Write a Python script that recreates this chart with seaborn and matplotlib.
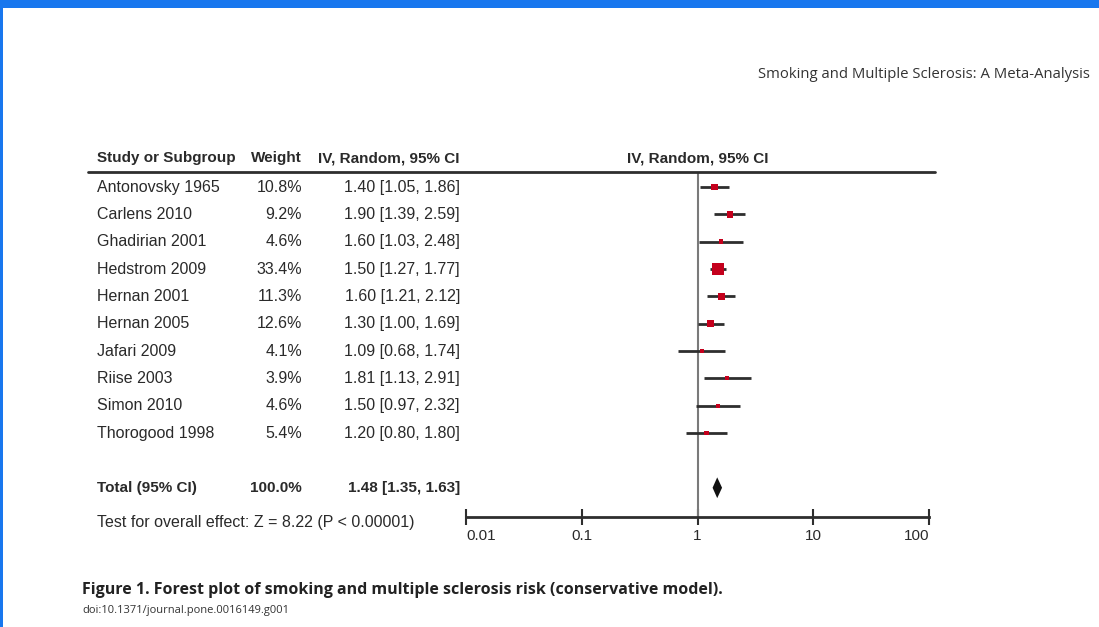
import numpy as np
import pandas as pd
import matplotlib
matplotlib.use("Agg")
import matplotlib.pyplot as plt
import seaborn as sns
from matplotlib.transforms import blended_transform_factory
from matplotlib.patches import Polygon, Rectangle
from matplotlib.lines import Line2D
from matplotlib.ticker import NullLocator

# ---------------- data ----------------
studies = ["Antonovsky 1965", "Carlens 2010", "Ghadirian 2001", "Hedstrom 2009",
           "Hernan 2001", "Hernan 2005", "Jafari 2009", "Riise 2003",
           "Simon 2010", "Thorogood 1998"]
weights = [10.8, 9.2, 4.6, 33.4, 11.3, 12.6, 4.1, 3.9, 4.6, 5.4]
rr = [1.40, 1.90, 1.60, 1.50, 1.60, 1.30, 1.09, 1.81, 1.50, 1.20]
ci_low = [1.05, 1.39, 1.03, 1.27, 1.21, 1.00, 0.68, 1.13, 0.97, 0.80]
ci_high = [1.86, 2.59, 2.48, 1.77, 2.12, 1.69, 1.74, 2.91, 2.32, 1.80]
total_rr, total_low, total_high = 1.48, 1.35, 1.63
total_weight = 100.0
x_ticks = [0.01, 0.1, 1, 10, 100]
x_tick_labels = ["0.01", "0.1", "1", "10", "100"]

df = pd.DataFrame({"study": studies, "weight": weights, "rr": rr,
                   "low": ci_low, "high": ci_high})
df["row"] = np.arange(len(df))
total_row = len(df) + 1

# ---------------- style ----------------
sns.set_style("white")
plt.rcParams["font.family"] = ["Liberation Sans", "DejaVu Sans"]

W, H = 1099, 627
fig = plt.figure(figsize=(W / 100, H / 100), dpi=100)
fig.patch.set_facecolor("white")

# blue frame (top band and thin left edge)
fig.add_artist(Rectangle((0, 1 - 8 / H), 1, 8 / H, transform=fig.transFigure,
                         color="#1877ee", lw=0))
fig.add_artist(Rectangle((0, 0), 2.5 / W, 1, transform=fig.transFigure,
                         color="#1877ee", lw=0))

def fx(px):
    return px / W

def fy(py):
    return 1 - py / H

ax = fig.add_axes([fx(466), fy(517), (929 - 466) / W, (517 - 172) / H])
ax.set_facecolor("none")

txt = "#2a2a2a"

# confidence intervals
ax.hlines(df["row"], df["low"], df["high"], color="#2e2e2e", lw=2, zorder=2)
# point estimates, square area proportional to weight
sns.scatterplot(data=df, x="rr", y="row", size="weight",
                sizes=(min(weights) * 2.25, max(weights) * 2.25),
                marker="s", color="#c4001c", edgecolor="none",
                legend=False, ax=ax, zorder=3)
# pooled diamond
ax.add_patch(Polygon([(total_low, total_row), (total_rr, total_row - 0.38),
                      (total_high, total_row), (total_rr, total_row + 0.38)],
                     closed=True, color="#111111", lw=0, zorder=3))
# line of no effect
ax.axvline(1, color="#7a7a7a", lw=1.5, zorder=1)

ax.set_xscale("log")
ax.set_xlim(0.01, 100)
ax.set_ylim(12.07, -0.55)
ax.set_xlabel("")
ax.set_ylabel("")
ax.set_yticks([])
ax.xaxis.set_minor_locator(NullLocator())
ax.set_xticks(x_ticks)
ax.set_xticklabels(x_tick_labels)
for sp in ["top", "left", "right"]:
    ax.spines[sp].set_visible(False)
ax.spines["bottom"].set_color("#2e2e2e")
ax.spines["bottom"].set_linewidth(2)
ax.tick_params(axis="x", which="major", bottom=True, direction="inout",
               length=12, width=1.5, colors="#2e2e2e", labelsize=11, pad=3,
               labelcolor=txt)
labels = ax.get_xticklabels()
labels[0].set_horizontalalignment("left")
labels[-1].set_horizontalalignment("right")

# ---------------- table text ----------------
tr = blended_transform_factory(fig.transFigure, ax.transData)
fs = 11.5
head_y = -1.06
ax.text(fx(97), head_y, "Study or Subgroup", transform=tr, ha="left", va="center",
        fontsize=11, fontweight="bold", color=txt, clip_on=False)
ax.text(fx(302), head_y, "Weight", transform=tr, ha="right", va="center",
        fontsize=11, fontweight="bold", color=txt, clip_on=False)
ax.text(fx(460), head_y, "IV, Random, 95% CI", transform=tr, ha="right", va="center",
        fontsize=11, fontweight="bold", color=txt, clip_on=False)
ax.text(1, head_y, "IV, Random, 95% CI", ha="center", va="center",
        fontsize=11, fontweight="bold", color=txt, clip_on=False)

fig.add_artist(Line2D([fx(88), fx(935)], [fy(172), fy(172)], color="#2e2e2e",
                      lw=2, transform=fig.transFigure))

for _, r in df.iterrows():
    ax.text(fx(97), r["row"], r["study"], transform=tr, ha="left", va="center",
            fontsize=fs, color=txt, clip_on=False)
    ax.text(fx(302), r["row"], f"{r['weight']:.1f}%", transform=tr, ha="right",
            va="center", fontsize=fs, color=txt, clip_on=False)
    ax.text(fx(460), r["row"], f"{r['rr']:.2f} [{r['low']:.2f}, {r['high']:.2f}]",
            transform=tr, ha="right", va="center", fontsize=fs, color=txt,
            clip_on=False)

ax.text(fx(97), total_row, "Total (95% CI)", transform=tr, ha="left", va="center",
        fontsize=11, fontweight="bold", color=txt, clip_on=False)
ax.text(fx(302), total_row, f"{total_weight:.1f}%", transform=tr, ha="right",
        va="center", fontsize=11, fontweight="bold", color=txt, clip_on=False)
ax.text(fx(460), total_row, f"{total_rr:.2f} [{total_low:.2f}, {total_high:.2f}]",
        transform=tr, ha="right", va="center", fontsize=11, fontweight="bold",
        color=txt, clip_on=False)
ax.text(fx(97), 12.26, "Test for overall effect: Z = 8.22 (P < 0.00001)",
        transform=tr, ha="left", va="center", fontsize=fs, color=txt, clip_on=False)

# ---------------- page texts ----------------
fig.text(fx(1090), fy(75), "Smoking and Multiple Sclerosis: A Meta-Analysis",
         ha="right", va="center", fontsize=10.7, color="#333333",
         family=["Open Sans", "DejaVu Sans"])
fig.text(fx(82), fy(590),
         "Figure 1. Forest plot of smoking and multiple sclerosis risk (conservative model).",
         ha="left", va="center", fontsize=11.5, fontweight="bold", color="#222222",
         family=["Open Sans", "DejaVu Sans"])
fig.text(fx(82), fy(611), "doi:10.1371/journal.pone.0016149.g001",
         ha="left", va="center", fontsize=8, color="#333333",
         family=["Open Sans", "DejaVu Sans"])

fig.savefig("out.png", dpi=100, facecolor="white")
